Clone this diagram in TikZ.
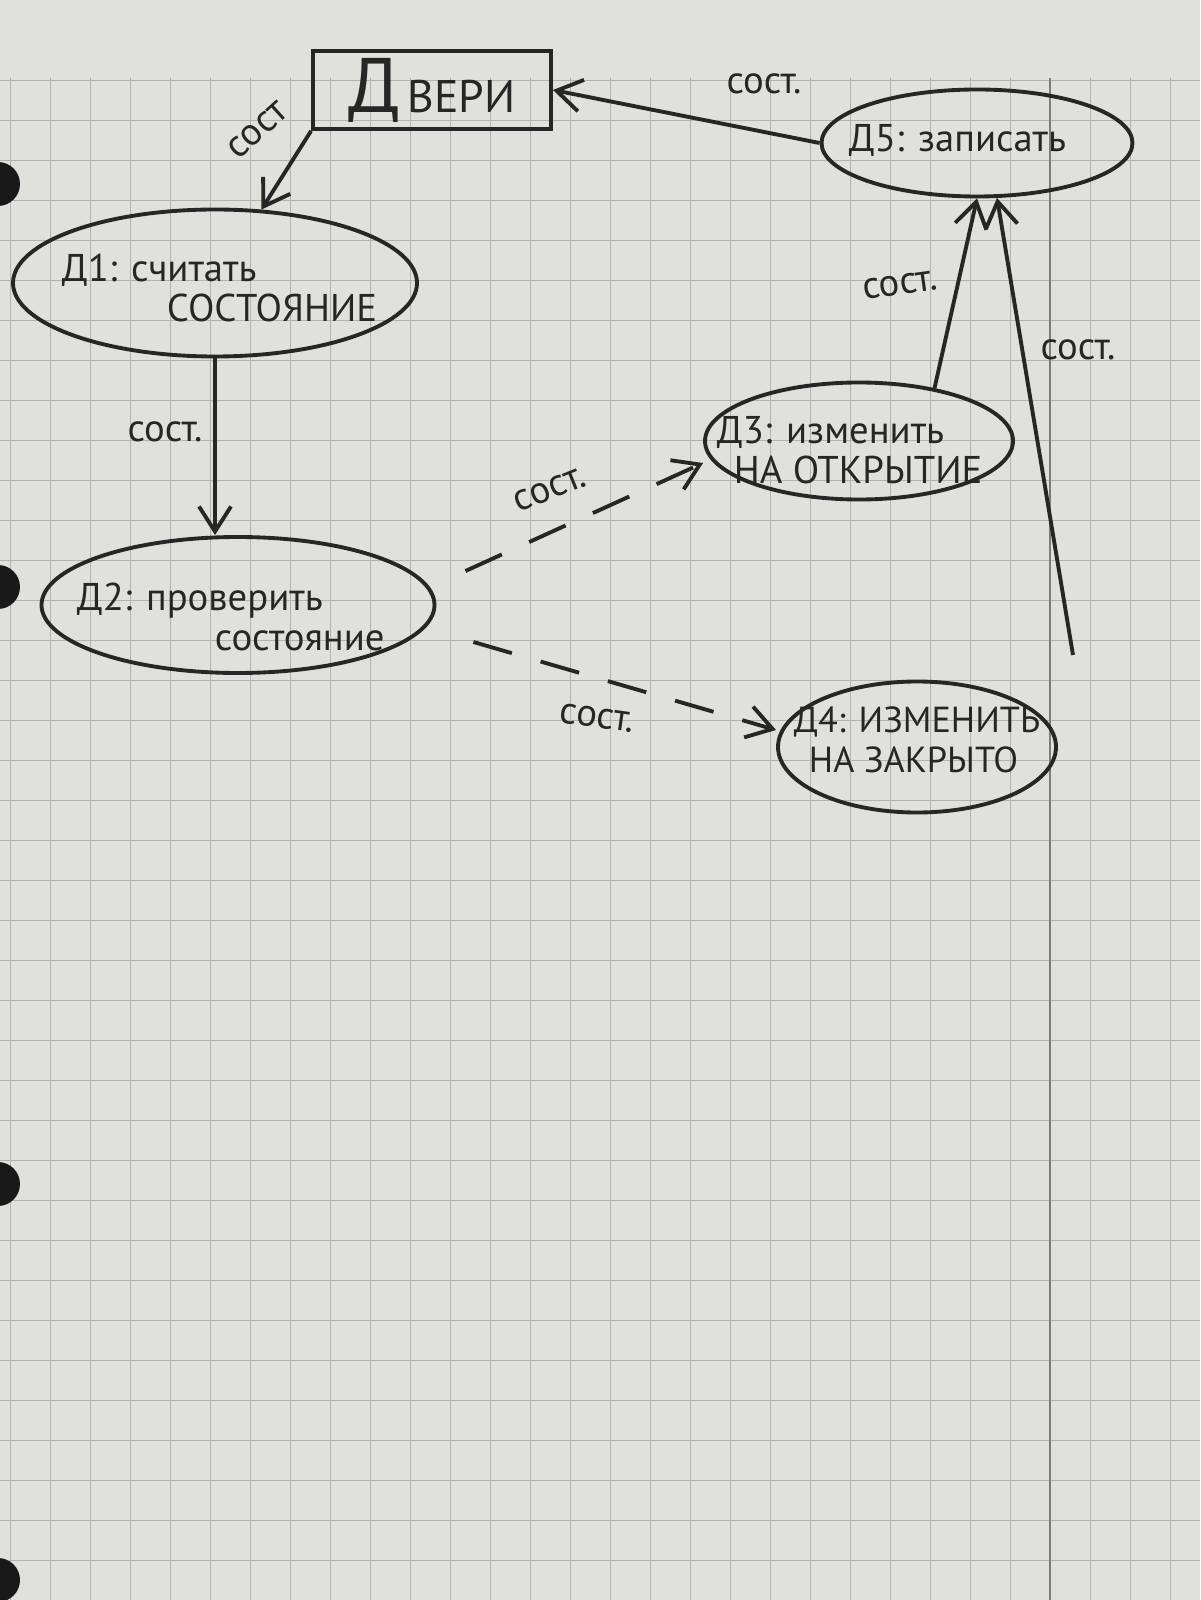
\documentclass[tikz,border=0pt]{standalone}
\usepackage{fontspec}
\setmainfont{PT Sans}
\usetikzlibrary{shapes.geometric,arrows.meta}
\definecolor{ink}{RGB}{38,38,38}
\definecolor{paper}{RGB}{224,224,221}
\definecolor{gridgray}{RGB}{178,178,175}

\begin{document}
\begin{tikzpicture}[>={Straight Barb[length=2.5mm,width=3.2mm]}, ink, line width=1.1pt,
  proc/.style={ellipse, draw, inner sep=0pt},
  ptext/.style={anchor=west, align=left, inner sep=0pt, font=\fontsize{11}{11.5}\selectfont},
  lbl/.style={font=\fontsize{11}{11}\selectfont},
  dashflow/.style={->, dash pattern=on 4mm off 3mm}]
\useasboundingbox (0,0) rectangle (12,-16);
\fill[paper] (0,0) rectangle (12,-16);
\foreach \i in {0,...,29} \draw[gridgray, line width=0.25pt] ({0.1+0.4*\i},-0.78) -- ({0.1+0.4*\i},-16);
\foreach \j in {0,...,38} \draw[gridgray, line width=0.25pt] (0,{-0.8-0.4*\j}) -- (12,{-0.8-0.4*\j});
\draw[gridgray!70!black, line width=0.6pt] (10.5,-0.78) -- (10.5,-16);
\foreach \y in {1.84,5.87,11.84,15.8} \fill[black!90] (-0.02,-\y) circle (0.22);

\node[draw, minimum width=2.38cm, minimum height=0.78cm, inner sep=0pt,
  font=\fontsize{13}{13}\selectfont] (store) at (4.32,-0.90) {{\fontsize{22}{22}\selectfont Д}\,ВЕРИ};

\node[proc, minimum width=4.04cm, minimum height=1.47cm] (d1) at (2.15,-2.83) {};
\node[proc, minimum width=3.93cm, minimum height=1.36cm] (d2) at (2.38,-6.05) {};
\node[proc, minimum width=3.08cm, minimum height=1.17cm] (d3) at (8.59,-4.41) {};
\node[proc, minimum width=2.78cm, minimum height=1.31cm] (d4) at (9.17,-7.47) {};
\node[proc, minimum width=3.11cm, minimum height=1.07cm] (d5) at (9.77,-1.43) {};

\node[ptext] (t1) at (0.60,-2.88) {Д1: считать\\\hspace*{1.05cm}СОСТОЯНИЕ};
\node[ptext] (t2) at (0.75,-6.17) {Д2: проверить\\\hspace*{1.38cm}состояние};
\node[ptext] (t3) at (7.15,-4.50) {Д3: изменить\\\hspace*{0.17cm}НА ОТКРЫТИЕ};
\node[ptext, font=\fontsize{10.3}{11.5}\selectfont] (t4) at (7.92,-7.40) {Д4: ИЗМЕНИТЬ\\\hspace*{0.15cm}НА ЗАКРЫТО};
\node[ptext] (t5) at (8.47,-1.40) {Д5: записать};

\coordinate (d4out) at (10.73,-6.55);

\draw[->] (store.south west) -- (d1);
\draw[->] (d1.south) -- (d1.south |- d2.north);
\draw[->] (d5.west) -- (store.east);
\draw[->] (d3.35) -- (d5.south);
\draw[->] (d4out) -- (d5.-70);
\draw[dashflow] ([shift={(0.29,0.34)}]d2.east) -- ([yshift=-0.22cm]d3.west);
\draw[dashflow] ([shift={(0.37,-0.37)}]d2.east) -- ([yshift=0.17cm]d4.west);

\node[lbl, rotate=42] (s1) at (2.58,-1.30) {сост};
\node[lbl] (s2) at (1.65,-4.32) {сост.};
\node[lbl] (s3) at (7.64,-0.84) {сост.};
\node[lbl, rotate=8] (s4) at (9.00,-2.85) {сост.};
\node[lbl] (s5) at (10.78,-3.50) {сост.};
\node[lbl, rotate=22] (s6) at (5.50,-4.90) {сост.};
\node[lbl, rotate=-8] (s7) at (5.97,-7.18) {сост.};
\end{tikzpicture}
\end{document}
